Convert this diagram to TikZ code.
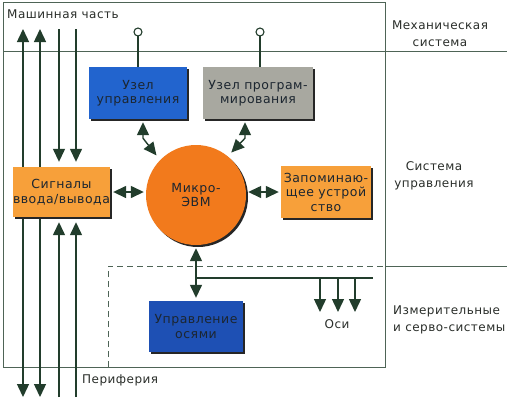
\documentclass[tikz,border=0pt]{standalone}
\usepackage{fontspec}
\setmainfont{DejaVu Sans}[LetterSpace=4]
\usetikzlibrary{arrows.meta,shadows,calc}
\definecolor{ln}{HTML}{223D2C}
\definecolor{txt}{HTML}{2A2E2A}
\definecolor{btxt}{HTML}{1C2630}
\definecolor{blueA}{HTML}{2264CE}
\definecolor{blueB}{HTML}{1E50B4}
\definecolor{grayA}{HTML}{A8A8A0}
\definecolor{orA}{HTML}{F7A03A}
\definecolor{orB}{HTML}{F27A1C}
\tikzset{
  tri/.tip={Triangle[length=13pt,width=12pt]},
  wire/.style={draw=ln,line width=1.4pt},
  frame/.style={draw=ln!80,line width=0.9pt},
  dframe/.style={draw=ln!80,line width=0.9pt,dash pattern=on 6pt off 4pt},
  box/.style={rectangle,inner sep=0pt,text=btxt,align=center,
    font=\fontsize{12.5}{14.5}\selectfont,
    drop shadow={shadow xshift=2pt,shadow yshift=-2pt,fill=black!85,opacity=1}},
  lbl/.style={text=txt,font=\fontsize{12}{17}\selectfont,inner sep=0pt},
}
\begin{document}
\begin{tikzpicture}[x=1pt,y=-1pt]
\useasboundingbox (0,0) rectangle (511,400);
\fill[white] (0,0) rectangle (511,400);
% frames
\draw[frame] (3,367) -- (3,2) -- (385,2) -- (385,367) -- cycle;
\draw[frame] (3,51) -- (507,51);
\draw[dframe] (108,367) -- (108,266) -- (385,266);
\draw[frame] (385,266) -- (507,266);
% nodes
\node[box,fill=blueA,minimum width=98pt,minimum height=52pt] (uzel) at (138,93) {Узел\\управления};
\node[box,fill=grayA,minimum width=110pt,minimum height=52pt] (prog) at (258,93) {Узел програм-\\мирования};
\node[box,fill=orA,minimum width=95pt,minimum height=50pt] (sig) at (61.5,192) {Сигналы\\ввода/вывода};
\node[box,fill=orA,minimum width=90pt,minimum height=52pt] (mem) at (326,192) {Запоминаю-\\щее устрой\\ство};
\node[box,fill=orB,circle,minimum size=100pt] (evm) at (196,195) {Микро-\\ЭВМ};
\node[box,fill=blueB,minimum width=94pt,minimum height=51pt] (osi) at (196,326.5) {Управление\\осями};
% periphery lines
\coordinate (p1t) at (23,29); \coordinate (p1b) at (23,397);
\coordinate (p2t) at (40,29); \coordinate (p2b) at (40,397);
\coordinate (p3t) at (59,29); \coordinate (p3b) at (59,397);
\coordinate (p4t) at (76,29); \coordinate (p4b) at (76,397);
\draw[wire,{tri}-{tri}] (p1t) -- (p1b);
\draw[wire,{tri}-{tri}] (p2t) -- (p2b);
\draw[wire,-{tri}] (p3t) -- ($(sig.north -| p3t)+(0,-5)$);
\draw[wire,-{tri}] (p4t) -- ($(sig.north -| p4t)+(0,-5)$);
\draw[wire,-{tri}] (p3b) -- ($(sig.south -| p3b)+(0,5)$);
\draw[wire,-{tri}] (p4b) -- ($(sig.south -| p4b)+(0,5)$);
% redraw sig box on top of lines 1,2
\node[box,fill=orA,minimum width=95pt,minimum height=50pt] (sig2) at (sig) {Сигналы\\ввода/вывода};
% pins
\coordinate (pin1) at (uzel.north |- 0,32);
\coordinate (pin2) at ($(prog.north |- 0,32)+(2,0)$);
\draw[wire,line width=1.1pt] (pin1) ++(0,4) -- (uzel.north);
\draw[wire,line width=1.1pt] (pin2) ++(0,4) -- ($(prog.north)+(2,0)$);
\draw[ln,line width=1.1pt,fill=white] (pin1) circle (4);
\draw[ln,line width=1.1pt,fill=white] (pin2) circle (4);
% connectors
\draw[wire,{tri}-{tri}] ($(sig.east)+(3,0)$) -- ($(evm.west)+(-2,-3)$);
\draw[wire,{tri}-{tri}] ($(evm.east)+(2,-3)$) -- ($(mem.west)+(-2,0)$);
\draw[wire,{tri}-{tri}] ($(uzel.south)+(5,3)$) -- ++(0,16) -- ($(evm.135)+(-4,-4)$);
\draw[wire,{tri}-{tri}] ($(prog.south)+(-13,3)$) -- ++(0,16) -- ($(evm.50)+(3,-4)$);
\coordinate (j) at (evm.south |- 0,278);
\coordinate (jr) at (373,278);
\draw[wire,{tri}-] ($(evm.south)+(0,3)$) -- (j);
\draw[wire] (j) -- (jr);
\draw[wire,-{tri}] (j) -- ($(osi.north)+(0,-3)$);
\coordinate (a1) at (320,278); \coordinate (a1e) at (320,312);
\coordinate (a2) at (338,278); \coordinate (a2e) at (338,312);
\coordinate (a3) at (355,278); \coordinate (a3e) at (355,312);
\draw[wire,-{tri}] (a1) -- (a1e);
\draw[wire,-{tri}] (a2) -- (a2e);
\draw[wire,-{tri}] (a3) -- (a3e);
% labels
\node[lbl,anchor=west] (l1) at (7,14) {Машинная часть};
\node[lbl,align=center] (l2) at (440,34) {Механическая\\система};
\node[lbl,align=center] (l3) at (434,176) {Система\\управления};
\node[lbl,align=left,anchor=west] (l4) at (393,320) {Измерительные\\и серво-системы};
\node[lbl,anchor=west] (l5) at (82,380) {Периферия};
\node[lbl] (l6) at (337,324) {Оси};
\end{tikzpicture}
\end{document}
